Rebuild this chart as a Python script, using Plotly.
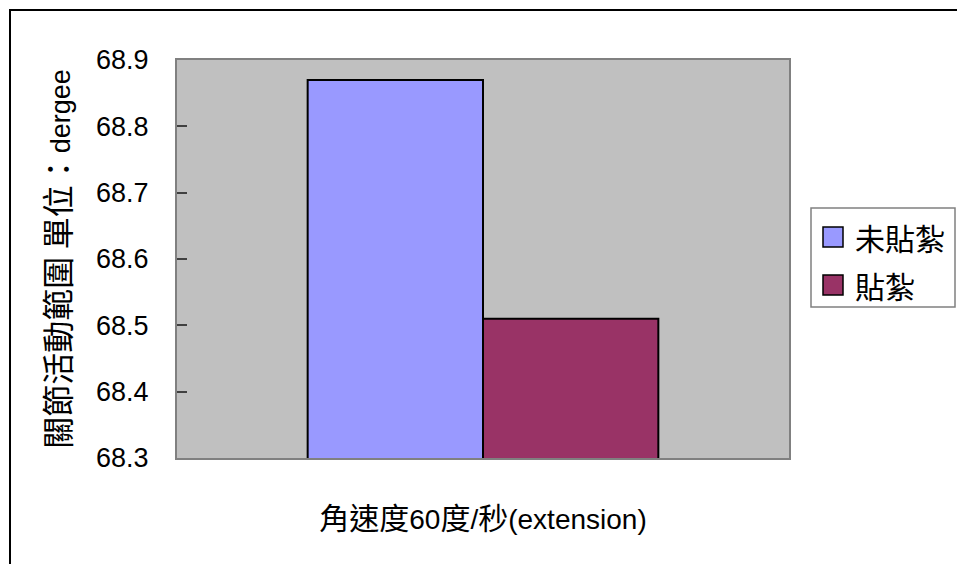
import plotly.graph_objects as go

# Data
category = ["角速度60度/秒(extension)"]
series_names = ["未貼紮", "貼紮"]
series_values = [[68.87], [68.51]]
series_colors = ["#9999FF", "#993366"]
y_ticks = [68.3, 68.4, 68.5, 68.6, 68.7, 68.8, 68.9]
y_title = "關節活動範圍 單位：dergee"

# Canvas / plot-area geometry (pixels)
W, H = 957, 564
L, R, T, B = 177, 168, 60, 106
PW, PH = W - L - R, H - T - B

LATIN = "Liberation Sans, Arial, sans-serif"
CJK = "Noto Sans CJK TC"


def px_x(p):
    return (p - L) / PW


def px_y(p):
    return 1 - (p - T) / PH


def mixed(text, cjk_size):
    # wrap CJK runs in a larger span so they sit with the latin glyphs like Excel
    out, buf, is_cjk = [], "", None
    for ch in text:
        c = ord(ch) > 0x2E80
        if is_cjk is None or c == is_cjk:
            buf += ch
        else:
            out.append((buf, is_cjk))
            buf = ch
        is_cjk = c
    if buf:
        out.append((buf, is_cjk))
    parts = []
    for s, c in out:
        if c:
            parts.append(f'<span style="font-family:{CJK};font-size:{cjk_size}px">{s}</span>')
        else:
            parts.append(s)
    return "".join(parts)


fig = go.Figure()
for name, vals, col in zip(series_names, series_values, series_colors):
    fig.add_trace(go.Bar(
        x=category, y=vals, name=name,
        marker=dict(color=col, line=dict(color="black", width=2)),
        showlegend=False,
    ))

fig.update_layout(
    width=W, height=H,
    margin=dict(l=L, r=R, t=T, b=B, autoexpand=False),
    paper_bgcolor="white",
    plot_bgcolor="#C0C0C0",
    barmode="group",
    bargap=0.427,
    bargroupgap=0,
    font=dict(family=LATIN, size=25, color="black"),
    xaxis=dict(
        showticklabels=False, ticks="", showgrid=False, zeroline=False,
        showline=True, mirror=True, linecolor="#808080", linewidth=2,
        title=dict(text=mixed(category[0], 30), standoff=50,
                   font=dict(size=28, family=LATIN)),
    ),
    yaxis=dict(
        range=[68.3, 68.9], tickvals=y_ticks,
        ticktext=[f"{v:.1f}" for v in y_ticks],
        ticks="inside", ticklen=10, tickwidth=2, tickcolor="#404040",
        ticklabelstandoff=21,
        showgrid=False, zeroline=False,
        showline=True, mirror=True, linecolor="#808080", linewidth=2,
        tickfont=dict(size=27, family=LATIN),
        title=dict(text=mixed(y_title, 32), standoff=18,
                   font=dict(size=27, family=LATIN)),
    ),
)

shapes = []
# outer chart border
shapes.append(dict(type="rect", xref="paper", yref="paper",
                   x0=px_x(10), x1=px_x(1000), y0=px_y(10), y1=px_y(620),
                   line=dict(color="black", width=2), fillcolor="rgba(0,0,0,0)"))
# legend box
shapes.append(dict(type="rect", xref="paper", yref="paper",
                   x0=px_x(811), x1=px_x(955), y0=px_y(208), y1=px_y(307),
                   line=dict(color="#808080", width=1.5), fillcolor="white"))
annotations = []
for i, (name, col) in enumerate(zip(series_names, series_colors)):
    cy = 237 + i * 48
    shapes.append(dict(type="rect", xref="paper", yref="paper",
                       x0=px_x(823), x1=px_x(843), y0=px_y(cy - 10), y1=px_y(cy + 10),
                       line=dict(color="black", width=1.5), fillcolor=col))
    annotations.append(dict(xref="paper", yref="paper", x=px_x(853), y=px_y(cy),
                            xanchor="left", yanchor="middle", showarrow=False,
                            text=name, font=dict(family=CJK, size=30, color="black")))

fig.update_layout(shapes=shapes, annotations=annotations)
fig.write_html("out.html")
